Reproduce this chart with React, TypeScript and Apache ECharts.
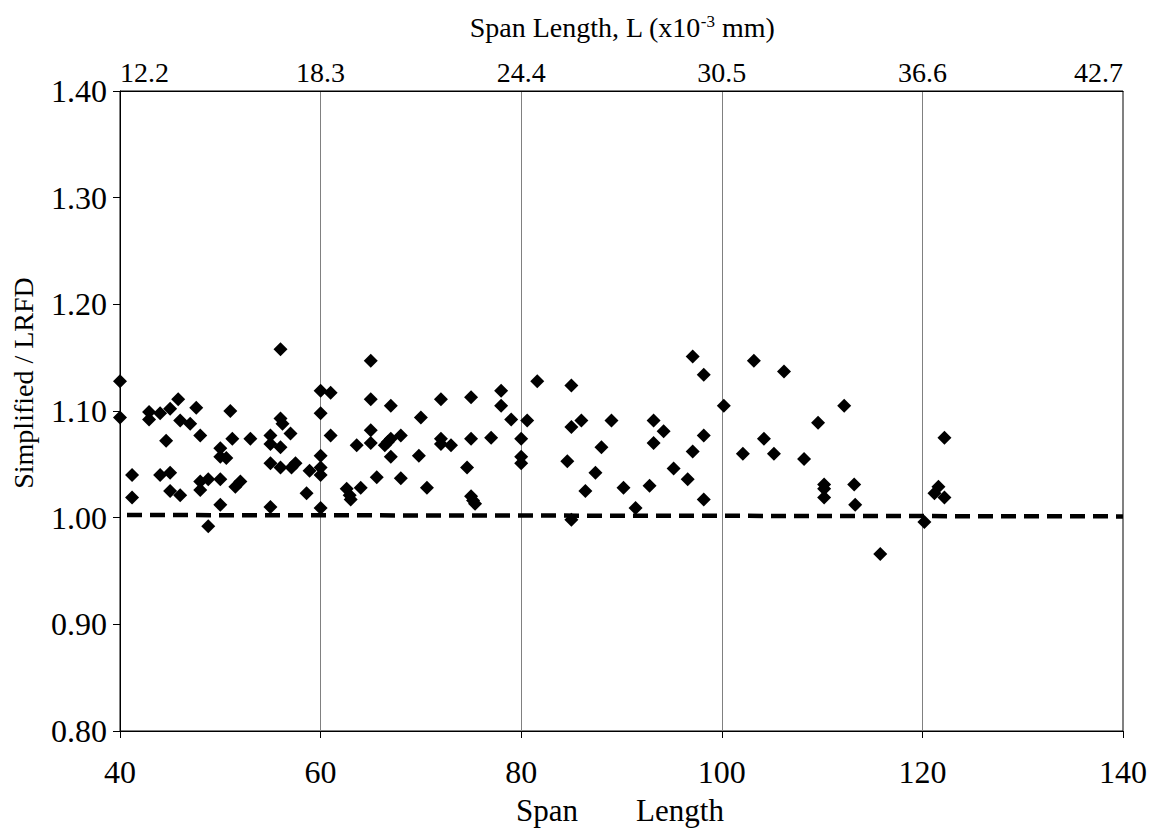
import React, { useEffect, useRef } from "react";
import * as echarts from "echarts";

const spanLength = [
  40, 40, 56, 41.2, 41.2, 42.9, 42.9, 44.0, 45.0, 45.8, 46.0, 47.0, 47.6, 48.0, 44.6, 44.0, 45.0, 45.0, 46.0, 48.0,
  48.0, 48.8, 48.8, 50.0, 50.0, 50.0, 50.0, 50.6, 51.0, 51.2, 51.5, 52.0, 53.0, 55.0, 55.0, 56.0, 56.2, 57.0, 56.0, 55.0,
  56.0, 57.1, 57.5, 55.0, 58.6, 58.9, 60, 60, 60, 60, 60, 60, 61.0, 61.0,
  65.0, 65.0, 67.0, 65.0, 65.0, 63.6, 66.4, 67.0, 68.0, 67.0, 65.6, 68.0, 64.0, 62.6, 63.0, 62.9, 70.0, 69.8, 70.6, 72.0,
  72.0, 72.0, 73.0, 75.0, 75.0, 74.6, 75.0, 75.4, 75.2, 77.0, 78.0, 78.0, 79.0, 80.6, 80.0, 80.0, 80.0, 81.6, 66.7,
  85.0, 85.0, 86.0, 89.0, 88.0, 84.6, 87.4, 86.4, 85.0, 90.2, 91.4, 92.8, 93.2, 94.2, 93.2, 95.2, 96.6, 97.1, 98.2, 98.2,
  97.1, 98.2, 100.2, 102.1,
  103.2, 106.2, 104.2, 105.2, 108.2, 109.6, 112.2, 110.2, 110.2, 110.2, 113.2, 113.3, 115.8, 120.2, 122.2, 121.2, 121.6, 122.2,
];

const ratio = [
  1.128, 1.094, 1.158, 1.040, 1.019, 1.099, 1.092, 1.098, 1.102, 1.111, 1.091, 1.088, 1.103, 1.077, 1.072, 1.040, 1.042, 1.025, 1.021, 1.034,
  1.026, 1.036, 0.992, 1.036, 1.012, 1.065, 1.057, 1.056, 1.100, 1.074, 1.029, 1.034, 1.074, 1.077, 1.069, 1.093, 1.088, 1.079, 1.066, 1.051,
  1.047, 1.047, 1.051, 1.010, 1.023, 1.044, 1.119, 1.098, 1.058, 1.047, 1.040, 1.009, 1.077, 1.117,
  1.147, 1.111, 1.105, 1.082, 1.070, 1.068, 1.068, 1.074, 1.077, 1.057, 1.038, 1.037, 1.028, 1.027, 1.017, 1.021, 1.094, 1.058, 1.028, 1.111,
  1.074, 1.069, 1.068, 1.113, 1.074, 1.047, 1.020, 1.013, 1.016, 1.075, 1.119, 1.105, 1.092, 1.091, 1.074, 1.057, 1.051, 1.128, 1.071,
  1.124, 1.085, 1.091, 1.091, 1.066, 1.053, 1.042, 1.025, 0.998, 1.028, 1.009, 1.030, 1.091, 1.081, 1.070, 1.046, 1.036, 1.062, 1.077, 1.017,
  1.151, 1.134, 1.105, 1.060,
  1.147, 1.137, 1.074, 1.060, 1.055, 1.089, 1.105, 1.031, 1.027, 1.019, 1.031, 1.012, 0.966, 0.996, 1.075, 1.023, 1.029, 1.019,
];

const trendX = [40, 140];
const trendY = [1.0025, 1.0012];

const topTickLabels = ["12.2", "18.3", "24.4", "30.5", "36.6", "42.7"];

const FONT = "'Liberation Serif', 'Times New Roman', serif";

export default function App() {
  const ref = useRef<HTMLDivElement>(null);

  useEffect(() => {
    if (!ref.current) return;
    const chart = echarts.init(ref.current, null, { renderer: "svg" });
    const points = spanLength.map((x, i) => [x, ratio[i]]);
    const trend = trendX.map((x, i) => [x, trendY[i]]);

    chart.setOption({
      animation: false,
      backgroundColor: "#fff",
      grid: {
        left: 120,
        right: 36,
        top: 91,
        bottom: 98,
        show: true,
        borderColor: "#000",
        borderWidth: 1,
        containLabel: false,
      },
      xAxis: [
        {
          type: "value",
          position: "bottom",
          min: 40,
          max: 140,
          interval: 20,
          axisLine: { show: true, lineStyle: { color: "#000", width: 1 } },
          axisTick: { show: true, inside: false, length: 7, lineStyle: { color: "#000" } },
          axisLabel: { color: "#000", fontFamily: FONT, fontSize: 32, margin: 25 },
          splitLine: { show: true, lineStyle: { color: "#808080", width: 1 } },
        },
        {
          type: "value",
          position: "top",
          min: 40,
          max: 140,
          interval: 20,
          axisLine: { show: true, lineStyle: { color: "#000", width: 1 } },
          axisTick: { show: false },
          axisLabel: {
            color: "#000",
            fontFamily: FONT,
            fontSize: 28,
            margin: 5,
            alignMinLabel: "left",
            alignMaxLabel: "right",
            formatter: (v: number) => topTickLabels[Math.round((v - 40) / 20)] ?? "",
          },
          splitLine: { show: false },
        },
      ],
      yAxis: {
        type: "value",
        min: 0.8,
        max: 1.4,
        interval: 0.1,
        axisLine: { show: true, lineStyle: { color: "#000", width: 1 } },
        axisTick: { show: true, inside: false, length: 7, lineStyle: { color: "#000" } },
        axisLabel: {
          color: "#000",
          fontFamily: FONT,
          fontSize: 32,
          margin: 13,
          formatter: (v: number) => v.toFixed(2),
        },
        splitLine: { show: false },
      },
      graphic: [
        {
          type: "text",
          x: 622,
          y: 27,
          style: {
            text: "{a|Span Length, L (x10}{s|-3}{a| mm)}",
            align: "center",
            verticalAlign: "middle",
            rich: {
              a: { fontFamily: FONT, fontSize: 28, fill: "#000", color: "#000" },
              s: { fontFamily: FONT, fontSize: 17, fill: "#000", color: "#000", verticalAlign: "top", padding: [0, 0, 12, 0] },
            },
          },
        },
        {
          type: "text",
          x: 23,
          y: 383,
          rotation: Math.PI / 2,
          style: {
            text: "Simplified / LRFD",
            fontFamily: FONT,
            fontSize: 28,
            fill: "#000",
            align: "center",
            verticalAlign: "middle",
          },
        },
        {
          type: "text",
          x: 547,
          y: 810,
          style: { text: "Span", fontFamily: FONT, fontSize: 31, fill: "#000", align: "center", verticalAlign: "middle" },
        },
        {
          type: "text",
          x: 680,
          y: 810,
          style: { text: "Length", fontFamily: FONT, fontSize: 31, fill: "#000", align: "center", verticalAlign: "middle" },
        },
      ],
      series: [
        {
          type: "scatter",
          xAxisIndex: 0,
          data: points,
          symbol: "diamond",
          symbolSize: 14,
          itemStyle: { color: "#000", opacity: 1 },
          z: 3,
        },
        {
          type: "line",
          xAxisIndex: 0,
          data: trend,
          symbol: "none",
          lineStyle: { color: "#000", width: 4.5, type: [15, 8], dashOffset: 16 },
          z: 4,
        },
      ],
    });

    return () => chart.dispose();
  }, []);

  return <div ref={ref} style={{ position: "absolute", left: 0, top: 0, width: 1159, height: 829 }} />;
}
